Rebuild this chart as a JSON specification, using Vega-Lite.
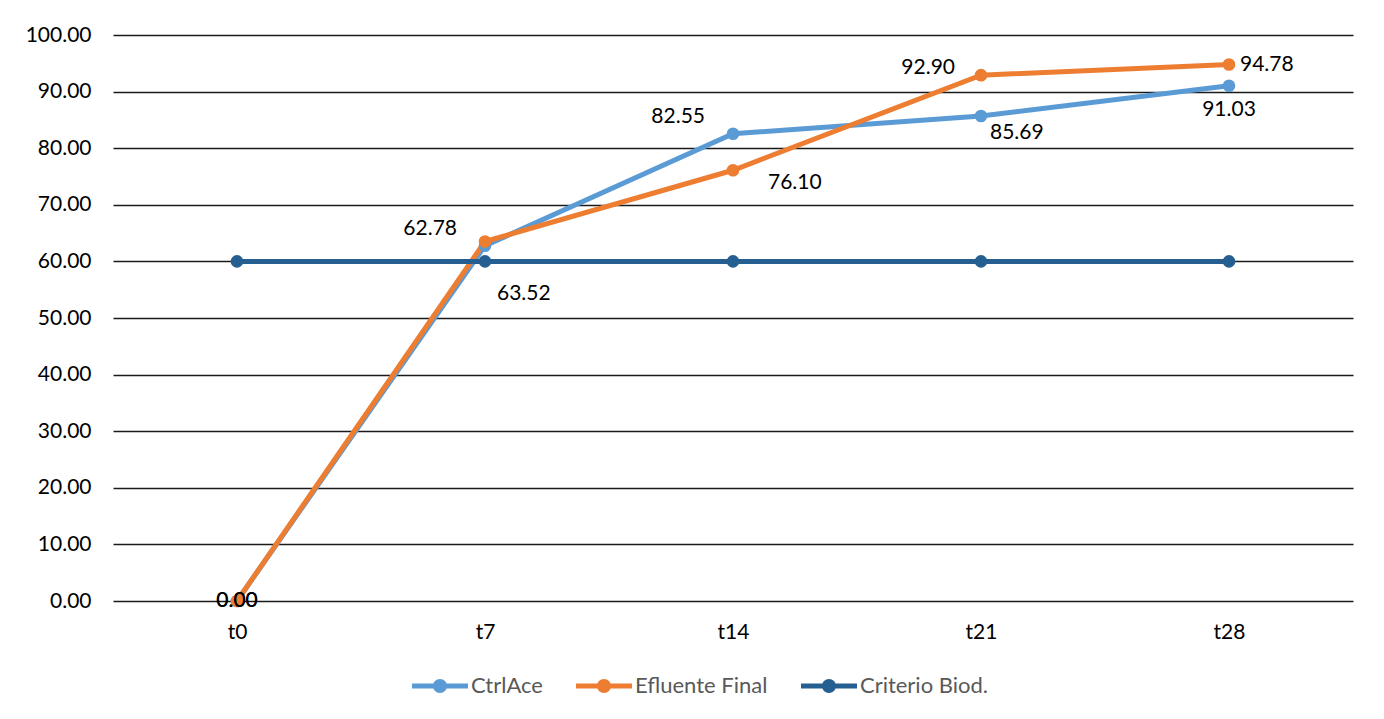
{
  "$schema": "https://vega.github.io/schema/vega-lite/v6.json",
  "autosize": "none",
  "width": 1240,
  "height": 566,
  "padding": {"left": 113, "top": 35, "right": 31, "bottom": 118},
  "background": "white",
  "config": {
    "view": {"stroke": null},
    "font": "Lato",
    "axis": {"labelFont": "Lato", "labelFontSize": 21, "labelColor": "#000000"}
  },
  "data": {
    "values": [
      {"t": "t0", "series": "CtrlAce", "value": 0},
      {"t": "t7", "series": "CtrlAce", "value": 62.78},
      {"t": "t14", "series": "CtrlAce", "value": 82.55},
      {"t": "t21", "series": "CtrlAce", "value": 85.69},
      {"t": "t28", "series": "CtrlAce", "value": 91.03},
      {"t": "t0", "series": "Efluente Final", "value": 0},
      {"t": "t7", "series": "Efluente Final", "value": 63.52},
      {"t": "t14", "series": "Efluente Final", "value": 76.10},
      {"t": "t21", "series": "Efluente Final", "value": 92.90},
      {"t": "t28", "series": "Efluente Final", "value": 94.78},
      {"t": "t0", "series": "Criterio Biod.", "value": 60},
      {"t": "t7", "series": "Criterio Biod.", "value": 60},
      {"t": "t14", "series": "Criterio Biod.", "value": 60},
      {"t": "t21", "series": "Criterio Biod.", "value": 60},
      {"t": "t28", "series": "Criterio Biod.", "value": 60}
    ]
  },
  "encoding": {
    "x": {
      "field": "t", "type": "nominal", "sort": ["t0", "t7", "t14", "t21", "t28"],
      "scale": {"type": "point", "padding": 0.5},
      "axis": {"title": null, "labelAngle": 0, "domain": false, "ticks": false, "labelPadding": 20, "grid": false}
    },
    "y": {
      "field": "value", "type": "quantitative",
      "scale": {"domain": [0, 100], "nice": false},
      "axis": {"title": null, "values": [0, 10, 20, 30, 40, 50, 60, 70, 80, 90, 100], "format": ".2f", "domain": false, "ticks": false, "labelPadding": 22, "grid": true, "gridColor": "#1a1a1a", "gridWidth": 1.5, "gridOpacity": 1}
    }
  },
  "layer": [
    {
      "mark": {"type": "line", "strokeWidth": 5, "strokeCap": "round"},
      "encoding": {
        "color": {
          "field": "series", "type": "nominal",
          "scale": {"domain": ["CtrlAce", "Efluente Final", "Criterio Biod."], "range": ["#5B9BD5", "#ED7D31", "#255E91"]},
          "legend": {
            "title": null, "orient": "none", "direction": "horizontal", "legendX": 299, "legendY": 623,
            "symbolType": "M-1,-0.09 L1,-0.09 L1,0.09 L-1,0.09 Z M0.25,0 A0.25,0.25 0 1,1 -0.25,0 A0.25,0.25 0 1,1 0.25,0 Z",
            "symbolSize": 3136, "symbolStrokeWidth": 0, "labelFont": "Lato", "labelFontSize": 22, "labelColor": "#595959",
            "labelOffset": 3, "columnPadding": 33, "padding": 0,
            "labelLimit": 400,
            "encode": {"symbols": {"update": {"fill": {"scale": "color", "field": "value"}, "stroke": {"value": "transparent"}, "strokeWidth": {"value": 0}, "opacity": {"value": 1}}}}
          }
        }
      }
    },
    {
      "mark": {"type": "point", "filled": true, "size": 160, "opacity": 1},
      "encoding": {"color": {"field": "series", "type": "nominal"}}
    },
    {
      "transform": [{"filter": "datum.series == 'CtrlAce' && (datum.t == 't7' || datum.t == 't14')"}],
      "mark": {"type": "text", "align": "right", "baseline": "middle", "dx": -28, "dy": -17, "fontSize": 21, "color": "#000000"},
      "encoding": {"text": {"field": "value", "type": "quantitative", "format": ".2f"}}
    },
    {
      "transform": [{"filter": "datum.series == 'Efluente Final' && datum.t == 't21'"}],
      "mark": {"type": "text", "align": "right", "baseline": "middle", "dx": -26, "dy": -7, "fontSize": 21, "color": "#000000"},
      "encoding": {"text": {"field": "value", "type": "quantitative", "format": ".2f"}}
    },
    {
      "transform": [{"filter": "datum.series == 'CtrlAce' && datum.t == 't21'"}],
      "mark": {"type": "text", "align": "left", "baseline": "middle", "dx": 9, "dy": 17, "fontSize": 21, "color": "#000000"},
      "encoding": {"text": {"field": "value", "type": "quantitative", "format": ".2f"}}
    },
    {
      "transform": [{"filter": "datum.series == 'Efluente Final' && datum.t == 't14'"}],
      "mark": {"type": "text", "align": "left", "baseline": "middle", "dx": 35, "dy": 13, "fontSize": 21, "color": "#000000"},
      "encoding": {"text": {"field": "value", "type": "quantitative", "format": ".2f"}}
    },
    {
      "transform": [{"filter": "datum.series == 'Efluente Final' && datum.t == 't28'"}],
      "mark": {"type": "text", "align": "left", "baseline": "middle", "dx": 11, "dy": 0, "fontSize": 21, "color": "#000000"},
      "encoding": {"text": {"field": "value", "type": "quantitative", "format": ".2f"}}
    },
    {
      "transform": [{"filter": "datum.series == 'Efluente Final' && datum.t == 't7'"}],
      "mark": {"type": "text", "align": "left", "baseline": "middle", "dx": 12, "dy": 53, "fontSize": 21, "color": "#000000"},
      "encoding": {"text": {"field": "value", "type": "quantitative", "format": ".2f"}}
    },
    {
      "transform": [{"filter": "datum.series == 'CtrlAce' && datum.t == 't28'"}],
      "mark": {"type": "text", "align": "center", "baseline": "middle", "dx": 0, "dy": 24, "fontSize": 21, "color": "#000000"},
      "encoding": {"text": {"field": "value", "type": "quantitative", "format": ".2f"}}
    },
    {
      "transform": [{"filter": "datum.series != 'Criterio Biod.' && datum.t == 't0'"}],
      "mark": {"type": "text", "align": "center", "baseline": "middle", "dx": 0, "dy": 0, "fontSize": 21, "color": "#000000"},
      "encoding": {"text": {"field": "value", "type": "quantitative", "format": ".2f"}}
    }
  ]
}
